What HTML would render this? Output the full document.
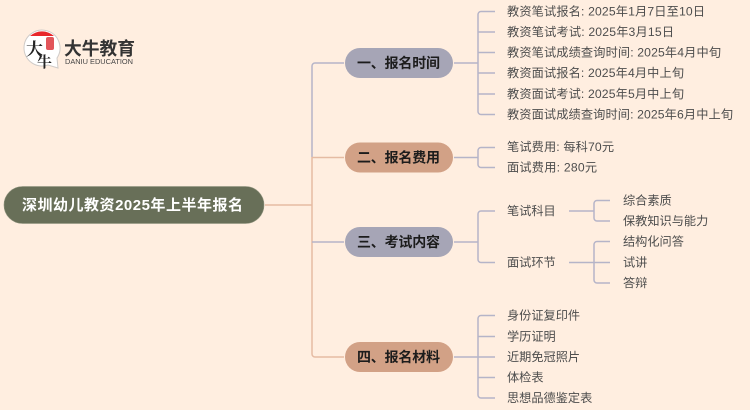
<!DOCTYPE html>
<html><head><meta charset="utf-8">
<style>
html,body{margin:0;padding:0;background:#ffeee0;width:750px;height:410px;overflow:hidden}
svg{display:block}
text{font-family:"Liberation Sans","Noto Sans CJK SC",sans-serif}
.t{font-size:12.2px;fill:#4d4d4d}
.n{font-size:14px;font-weight:bold;fill:#1c1c1c}
.g{fill:none;stroke:#b5b4c8;stroke-width:1.5}
.o{fill:none;stroke:#e5bba3;stroke-width:1.5}
</style></head><body>
<svg width="750" height="410" viewBox="0 0 750 410" xmlns="http://www.w3.org/2000/svg">
<rect width="750" height="410" fill="#ffeee0"/>
<!-- logo -->
<path d="M24 48a18 18 0 1 1 33 10l1 10-10-3a18 18 0 0 1-24-17z" fill="#fff" stroke="#cfcbc8" stroke-width="1"/>
<path d="M30 36a18 18 0 0 1 24 0z" fill="#e8262a"/>
<rect x="46" y="37" width="8" height="13" rx="2" fill="#e2555a"/>
<text x="26" y="55" font-size="17" font-weight="bold" fill="#222" style="font-family:'Noto Serif CJK SC',serif">大</text>
<text x="37" y="67" font-size="15" font-weight="bold" fill="#222" style="font-family:'Noto Serif CJK SC',serif">牛</text>
<text x="64" y="55" font-size="18" font-weight="bold" fill="#333" textLength="71" lengthAdjust="spacingAndGlyphs">大牛教育</text>
<text x="65" y="64" font-size="7" fill="#444" textLength="68" lengthAdjust="spacingAndGlyphs">DANIU EDUCATION</text>
<!-- spine -->
<path class="g" d="M344 63H315a3 3 0 0 0-3 3V157"/>
<path class="o" d="M265 205H312M344 157.500H312M312 157V354a3 3 0 0 0 3 3H344"/>
<path class="g" d="M344 242H312"/>
<!-- node 1 branches -->
<path class="g" d="M454 63H478M495 11.500H481a3 3 0 0 0-3 3V111.500a3 3 0 0 0 3 3H495M478 32H495M478 52.500H495M478 73H495M478 94H495"/>
<!-- node 2 -->
<path class="g" d="M454 157.500H478M495 147.500H481a3 3 0 0 0-3 3V164.500a3 3 0 0 0 3 3H495"/>
<!-- node 3 -->
<path class="g" d="M454 242H478M495 211H481a3 3 0 0 0-3 3V259.500a3 3 0 0 0 3 3H495"/>
<path class="g" d="M569 211H594M610 200.500H597a3 3 0 0 0-3 3V218a3 3 0 0 0 3 3H610"/>
<path class="g" d="M569 262.500H610M610 241.500H597a3 3 0 0 0-3 3V280a3 3 0 0 0 3 3H610"/>
<!-- node 4 -->
<path class="g" d="M454 357H495M495 315.500H481a3 3 0 0 0-3 3V395a3 3 0 0 0 3 3H495M478 336.500H495M478 377.500H495"/>
<!-- pills -->
<rect x="4" y="186.500" width="260" height="37" rx="18.500" fill="#686f58" stroke="#8d917c" stroke-width="0.6"/>
<text x="22" y="210" font-size="15" font-weight="bold" fill="#fff" textLength="221">深圳幼儿教资2025年上半年报名</text>
<rect x="345" y="48" width="108" height="30" rx="15" fill="#a6a5b6"/>
<text class="n" x="357" y="68" textLength="83">一、报名时间</text>
<rect x="345" y="142.500" width="108" height="30" rx="15" fill="#d2a186"/>
<text class="n" x="357" y="162.500" textLength="83">二、报名费用</text>
<rect x="345" y="227" width="108" height="30" rx="15" fill="#a6a5b6"/>
<text class="n" x="357" y="247" textLength="83">三、考试内容</text>
<rect x="345" y="342" width="108" height="30" rx="15" fill="#d2a186"/>
<text class="n" x="357" y="362" textLength="83">四、报名材料</text>
<!-- leaves -->
<text class="t" x="507" y="15.500" textLength="198">教资笔试报名: 2025年1月7日至10日</text>
<text class="t" x="507" y="36" textLength="167">教资笔试考试: 2025年3月15日</text>
<text class="t" x="507" y="56.500" textLength="214">教资笔试成绩查询时间: 2025年4月中旬</text>
<text class="t" x="507" y="77" textLength="177">教资面试报名: 2025年4月中上旬</text>
<text class="t" x="507" y="98" textLength="177">教资面试考试: 2025年5月中上旬</text>
<text class="t" x="507" y="118.500" textLength="226">教资面试成绩查询时间: 2025年6月中上旬</text>
<text class="t" x="507" y="151" textLength="107">笔试费用: 每科70元</text>
<text class="t" x="507" y="171.500" textLength="90">面试费用: 280元</text>
<text class="t" x="507" y="215">笔试科目</text>
<text class="t" x="507" y="266.500">面试环节</text>
<text class="t" x="623" y="204.500">综合素质</text>
<text class="t" x="623" y="225">保教知识与能力</text>
<text class="t" x="623" y="245.500">结构化问答</text>
<text class="t" x="623" y="266.500">试讲</text>
<text class="t" x="623" y="287">答辩</text>
<text class="t" x="507" y="319.500">身份证复印件</text>
<text class="t" x="507" y="340.500">学历证明</text>
<text class="t" x="507" y="361">近期免冠照片</text>
<text class="t" x="507" y="381.500">体检表</text>
<text class="t" x="507" y="402">思想品德鉴定表</text>
</svg>
</body></html>
